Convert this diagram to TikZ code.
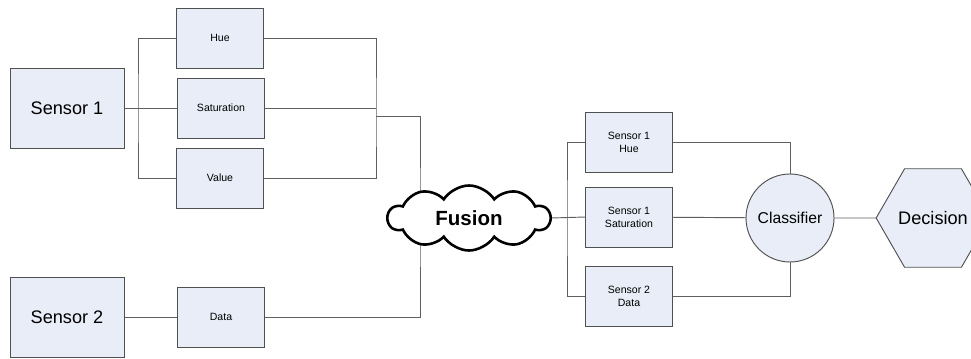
\documentclass[tikz,border=0pt]{standalone}
\usepackage{fontspec}
\setmainfont{Liberation Sans}
\usetikzlibrary{shapes.geometric,shapes.symbols}
\pgfdeclarelayer{bg}
\pgfsetlayers{bg,main}

\definecolor{boxfill}{RGB}{232,237,247}
\definecolor{boxline}{RGB}{80,80,80}
\definecolor{wire}{RGB}{95,95,95}

\begin{document}
\begin{tikzpicture}[x=0.03cm,y=-0.03cm]
        \tikzset{
            sensorbox/.style={draw=boxline,fill=boxfill,line width=0.8pt,minimum width=3.42cm,minimum height=2.4cm,inner sep=0pt,outer sep=0pt,font=\fontsize{15.5}{18}\selectfont},
            featbox/.style={draw=boxline,fill=boxfill,line width=0.8pt,minimum width=2.61cm,minimum height=1.8cm,inner sep=0pt,outer sep=0pt,align=center,font=\fontsize{9}{11}\selectfont},
            wires/.style={draw=wire,line width=0.8pt}
        }
        \useasboundingbox (0,0) rectangle (971,358);
        \clip (0,0) rectangle (971,358);

        % sensors and their features
        \node[sensorbox] (s1) at (67,108) {Sensor 1};
        \node[sensorbox] (s2) at (67,317) {Sensor 2};
        \node[featbox] (hue) at (220,38) {Hue};
        \node[featbox] (sat) at (221,108) {Saturation};
        \node[featbox] (val) at (220,178) {Value};
        \node[featbox] (data) at (221,317) {Data};

        \node[cloud,draw=black,fill=white,line width=2.2pt,cloud puffs=10,cloud puff arc=115,cloud ignores aspect,minimum width=4.86cm,minimum height=1.95cm,inner sep=0pt,outer sep=0pt,font=\bfseries\fontsize{17.5}{20}\selectfont] (fusion) at (469,218) {Fusion};

        % fused features
        \node[featbox] (hue2) at (629,142) {Sensor 1\\Hue};
        \node[featbox] (sat2) at (629,217) {Sensor 1\\Saturation};
        \node[featbox] (data2) at (629,296) {Sensor 2\\Data};
        \node[circle,draw=boxline,fill=boxfill,line width=0.8pt,minimum size=2.64cm,inner sep=0pt,outer sep=0pt,font=\fontsize{13.4}{16}\selectfont] (cls) at (790,218) {Classifier};
        \node[regular polygon,regular polygon sides=6,draw=boxline,fill=boxfill,line width=0.8pt,minimum size=3cm,inner sep=0pt,outer sep=0pt,font=\fontsize{15.5}{18}\selectfont] (dec) at (933,218) {Decision};

        \coordinate (lbus) at (138,108);
        \coordinate (rbus) at (376,116);
        \coordinate (fjoin) at (420,218);
        \coordinate (rbus2) at (567,217);

        \begin{pgfonlayer}{bg}
            \draw[wires] (s1) -- (sat);
            \draw[wires] (hue.west) -| (lbus) |- (val.west);
            \draw[wires] (hue.east) -| (rbus) |- (val.east);
            \draw[wires] (sat.east) -- (sat.east -| rbus);
            \draw[wires] (rbus) -| (fjoin) |- (data.east);
            \draw[wires] (s2) -- (data);
            \draw[wires] (fusion.east) -- (sat2.west);
            \draw[wires] (hue2.west) -| (rbus2) |- (data2.west);
            \draw[wires] (hue2.east) -| (cls.north);
            \draw[wires] (data2.east) -| (cls.south);
            \draw[wires] (sat2) -- (cls);
            \draw[wires] (cls) -- (dec);
        \end{pgfonlayer}

    \end{tikzpicture}
\end{document}
